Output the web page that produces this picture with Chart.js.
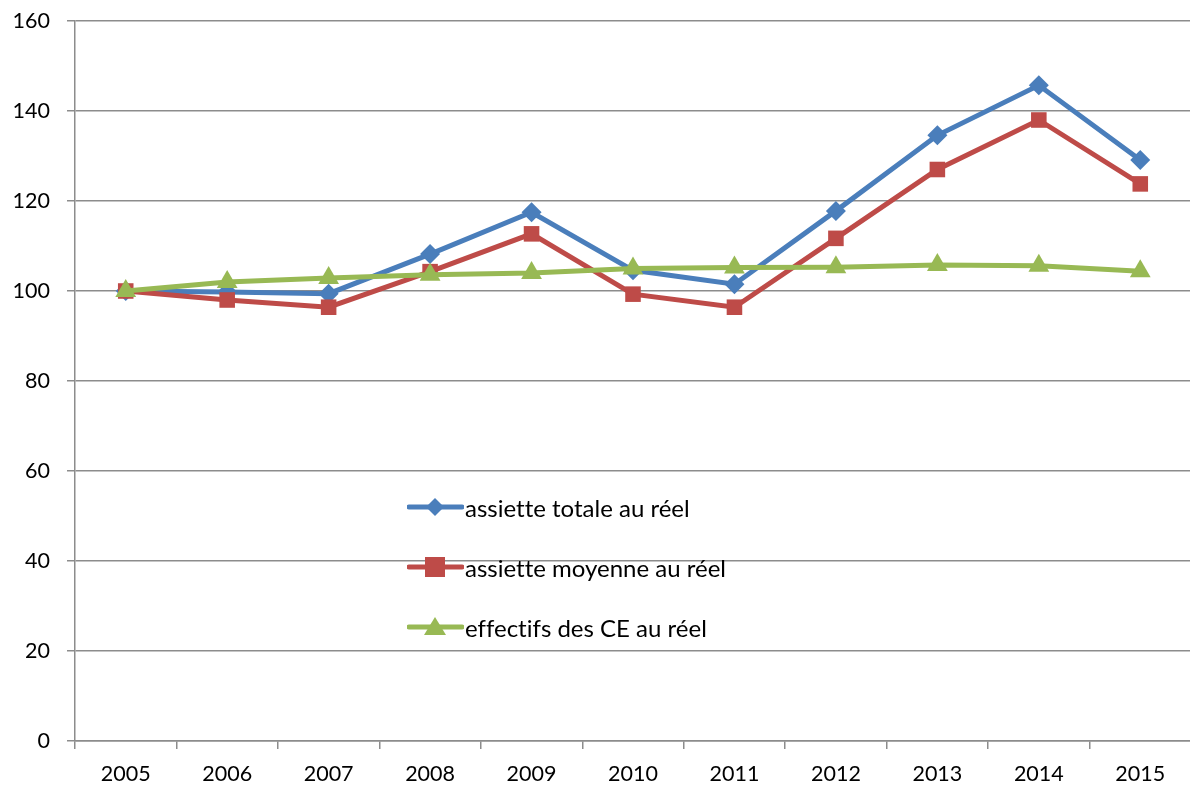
<!DOCTYPE html>
<html>
<head>
<meta charset="utf-8">
<script src="https://cdn.jsdelivr.net/npm/chart.js@4.4.1/dist/chart.umd.min.js"></script>
<style>
  html, body { margin: 0; padding: 0; background: #fff; overflow: hidden; }
  #wrap { position: relative; width: 1190px; height: 787px; overflow: hidden; }
  #chart { position: absolute; left: 0; top: 0; }
  #legend { position: absolute; left: 407px; top: 490px; font-family: Lato, "Open Sans", sans-serif; font-size: 24px; color: #000; font-variant-ligatures: none; }
  #legend .item { display: flex; align-items: center; height: 60px; margin-top: -13px; margin-bottom: 13px; }
  #legend svg { margin-right: 1px; }
</style>
</head>
<body>
<div id="wrap">
  <canvas id="chart" width="1203" height="787"></canvas>
  <div id="legend"></div>
</div>
<script>
var years = ["2005", "2006", "2007", "2008", "2009", "2010", "2011", "2012", "2013", "2014", "2015"];
var assietteTotale = [100, 99.8, 99.4, 108.2, 117.5, 104.6, 101.5, 117.8, 134.6, 145.7, 129.1];
var assietteMoyenne = [100, 98.0, 96.4, 104.3, 112.7, 99.3, 96.4, 111.7, 127.0, 138.0, 123.8];
var effectifs = [100, 102.0, 102.9, 103.6, 104.0, 105.0, 105.2, 105.3, 105.8, 105.6, 104.4];
var seriesNames = ["assiette totale au réel", "assiette moyenne au réel", "effectifs des CE au réel"];
var yTicks = [0, 20, 40, 60, 80, 100, 120, 140, 160];

var colors = ['#4a7ebb', '#be4b48', '#98b954'];
var shapes = ['rectRot', 'rect', 'triangle'];
var radii = [10, 11, 12];

var gridGrey = '#8c8c8c';
var tickFont = { family: 'Lato, "Open Sans", sans-serif', size: 21.5 };

var data = [assietteTotale, assietteMoyenne, effectifs];
var datasets = data.map(function (d, i) {
  return {
    label: seriesNames[i],
    data: d,
    borderColor: colors[i],
    backgroundColor: colors[i],
    borderWidth: 5,
    pointStyle: shapes[i],
    pointRadius: radii[i],
    pointBorderWidth: 0,
    tension: 0,
    order: 3 - i
  };
});

var ctx = document.getElementById("chart").getContext('2d');
new Chart(ctx, {
  type: "line",
  data: { labels: years, datasets: datasets },
  options: {
    responsive: false,
    animation: false,
    layout: { padding: { top: 21, right: 2, left: 0, bottom: 0 } },
    plugins: {
      legend: { display: false },
      tooltip: { enabled: false }
    },
    scales: {
      x: {
        offset: true,
        afterFit: function (axis) {
          axis.height = 46;
          axis.paddingLeft = 0;
          axis.paddingRight = 0;
        },
        grid: {
          offset: true,
          drawOnChartArea: false,
          color: gridGrey,
          lineWidth: 1.5,
          tickLength: 8
        },
        border: { color: gridGrey, width: 1.5 },
        ticks: { color: '#000', font: tickFont, padding: 12, maxRotation: 0 }
      },
      y: {
        min: 0,
        max: 160,
        afterBuildTicks: function (axis) {
          axis.ticks = yTicks.map(function (v) { return { value: v }; });
        },
        afterFit: function (axis) {
          axis.width = 75;
          axis.paddingTop = 0;
          axis.paddingBottom = 0;
        },
        grid: { color: gridGrey, lineWidth: 1.5, tickLength: 8 },
        border: { color: gridGrey, width: 1.5 },
        ticks: { color: '#000', font: tickFont, padding: 17 }
      }
    }
  }
});

// legend inside the plot, as in the original
var legend = document.getElementById("legend");
seriesNames.forEach(function (name, i) {
  var marker;
  if (shapes[i] === 'rectRot') {
    marker = '<polygon points="28,2 37,11 28,20 19,11" fill="' + colors[i] + '"/>';
  } else if (shapes[i] === 'rect') {
    marker = '<rect x="18" y="1" width="20" height="20" fill="' + colors[i] + '"/>';
  } else {
    marker = '<polygon points="28,1 39,19 17,19" fill="' + colors[i] + '"/>';
  }
  var item = document.createElement("div");
  item.className = "item";
  item.innerHTML = '<svg width="57" height="22"><line x1="2" y1="11" x2="55" y2="11" stroke="' + colors[i] +
    '" stroke-width="5" stroke-linecap="round"/>' + marker + '</svg><span>' + name + '</span>';
  legend.appendChild(item);
});
</script>
</body>
</html>
